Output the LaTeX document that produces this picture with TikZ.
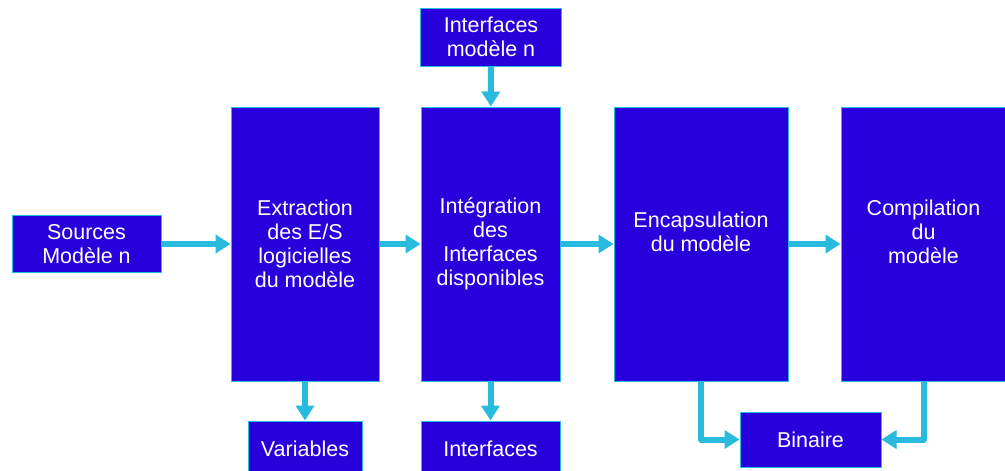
\documentclass[tikz,border=0pt]{standalone}
\usepackage{fontspec}
\setmainfont{Liberation Sans}
\usetikzlibrary{arrows.meta}
\definecolor{fond}{RGB}{40,0,220}
\definecolor{cyan}{RGB}{41,187,222}
\tikzset{
	bloc/.style={draw=cyan,line width=1pt,fill=fond,text=white,inner sep=0pt,align=center,
		font=\fontsize{21.5}{24}\selectfont},
	fleche/.style={draw=cyan,line width=6pt,line join=round,-{Triangle[length=15pt,width=18pt]}}
}
\begin{document}
\begin{tikzpicture}[x=1pt,y=-1pt]
		\useasboundingbox (0,0) rectangle (1005,471);
		% blocs
		\node[bloc,minimum width=149pt,minimum height=57pt] (sources) at (86.5,244) {Sources\\Modèle n};
		\node[bloc,minimum width=148pt,minimum height=274pt] (extraction) at (305,244) {Extraction\\des E/S\\logicielles\\du modèle};
		\node[bloc,minimum width=139pt,minimum height=274pt] (integration) at (490.5,244) {Intégration\\des\\Interfaces\\disponibles};
		\node[bloc,minimum width=141pt,minimum height=58pt] (ifmodele) at (491,37) {Interfaces\\modèle n};
		\node[bloc,minimum width=174pt,minimum height=274pt] (encapsulation) at (701,244) {Encapsulation\\du modèle\\~};
		\node[bloc,minimum width=165pt,minimum height=274pt] (compilation) at (923.5,244) {Compilation\\du\\modèle\\~};
		\node[bloc,minimum width=141pt,minimum height=55pt] (binaire) at (810.5,439.5) {Binaire};
		\node[bloc,minimum width=114pt,minimum height=55pt] (variables) at (305,448.5) {Variables};
		\node[bloc,minimum width=139pt,minimum height=55pt] (interfaces) at (490.5,448.5) {Interfaces};
		% fleches
		\draw[fleche] (sources.east) -- (sources.east -| extraction.west);
		\draw[fleche] (extraction) -- (integration);
		\draw[fleche] (integration) -- (encapsulation);
		\draw[fleche] (encapsulation) -- (compilation);
		\draw[fleche] (ifmodele) -- (integration);
		\draw[fleche] (extraction) -- (variables);
		\draw[fleche] (integration) -- (interfaces);
		\draw[fleche] (encapsulation.south) |- (binaire.west);
		\draw[fleche] (compilation.south) |- (binaire.east);
	\end{tikzpicture}
\end{document}
